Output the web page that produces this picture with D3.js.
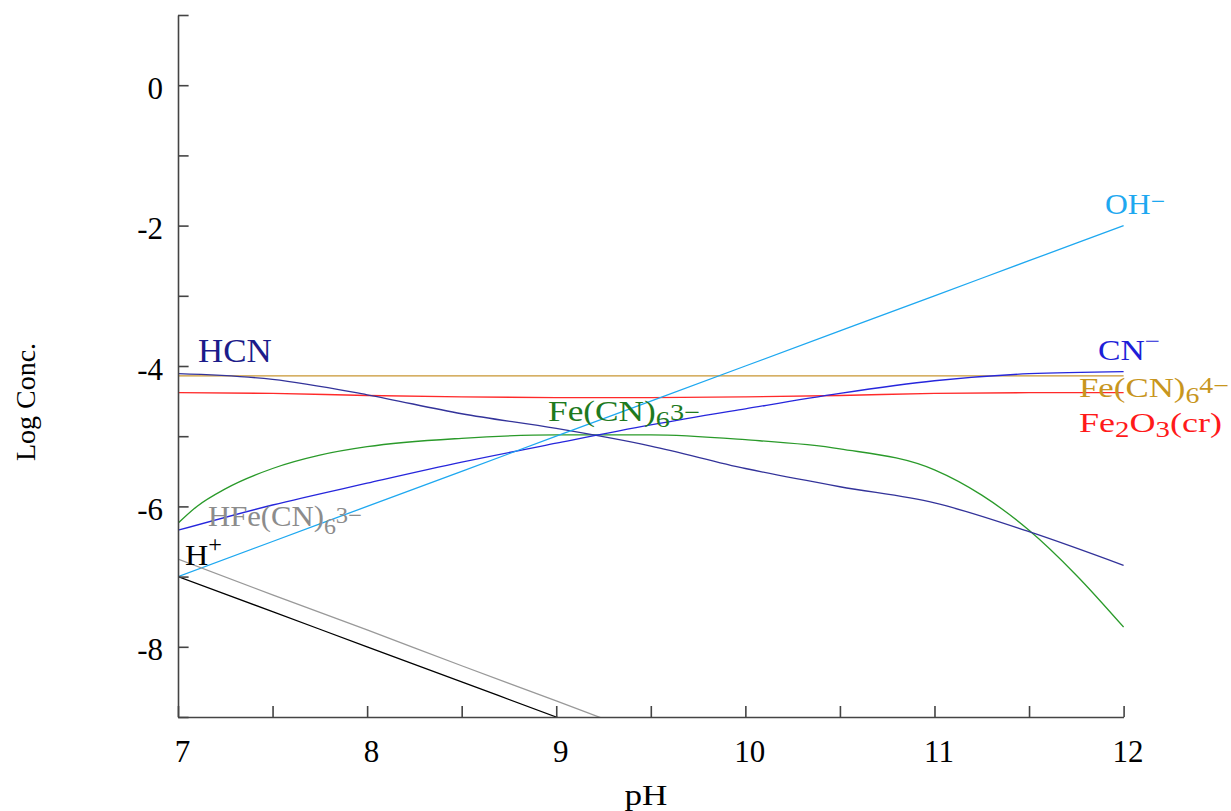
<!DOCTYPE html>
<html><head><meta charset="utf-8">
<script src="https://cdn.jsdelivr.net/npm/d3@7"></script>
<style>
body{margin:0;background:#fff}
svg{display:block}
text{font-family:"Liberation Serif","Times New Roman",serif}
</style>
</head><body>
<svg id="c" width="1231" height="811"></svg>
<script>
// ---- data ----
const pHGrid   = [7, 7.5, 8, 8.5, 9, 9.5, 10, 10.5, 11, 11.5, 12];
const ohMinus  = [-7, -6.5, -6, -5.5, -5, -4.5, -4, -3.5, -3, -2.5, -2];
const hPlus    = [-7, -7.5, -8, -8.5, -9, -9.5, -10, -10.5, -11, -11.5, -12];
const hcn      = [-4.11, -4.19, -4.41, -4.68, -4.89, -5.14, -5.46, -5.72, -5.95, -6.36, -6.84];
const cnMinus  = [-6.34, -5.98, -5.67, -5.37, -5.10, -4.84, -4.61, -4.39, -4.21, -4.11, -4.08];
const feCN6_4  = [-4.14, -4.14, -4.14, -4.14, -4.14, -4.14, -4.14, -4.14, -4.14, -4.14, -4.14];
const fe2o3    = [-4.38, -4.39, -4.42, -4.44, -4.45, -4.45, -4.44, -4.42, -4.39, -4.38, -4.38];
const hFeCN6   = [-6.75, -7.26, -7.76, -8.27, -8.77, -9.28, -9.78, -10.29, -10.79, -11.3, -11.8];
const pHGreen  = [7, 7.1, 7.25, 7.5, 7.75, 8, 8.5, 9, 9.5, 10, 10.5, 11, 11.25, 11.5, 11.75, 12];
const feCN6_3  = [-6.24, -6.0, -5.75, -5.46, -5.27, -5.15, -5.03, -4.98, -4.98, -5.05, -5.18, -5.48, -5.84, -6.34, -6.98, -7.72];
const xTickValues = [7, 7.5, 8, 8.5, 9, 9.5, 10, 10.5, 11, 11.5, 12];
const xTickLabels = [7, 8, 9, 10, 11, 12];
const yTickValues = [1, 0, -1, -2, -3, -4, -5, -6, -7, -8, -9];
const yTickLabels = [0, -2, -4, -6, -8];

const svg = d3.select("#c");
const x = d3.scaleLinear().domain([7, 12]).range([178, 1123.6]);
const y = d3.scaleLinear().domain([-9, 1]).range([717, 15]);

svg.append("clipPath").attr("id","clip").append("rect")
  .attr("x", 178).attr("y", 15).attr("width", 946).attr("height", 702);

const series = [
  {xs: pHGrid, ys: feCN6_4, color: "#c89632"},
  {xs: pHGrid, ys: fe2o3,   color: "#ff2a2a"},
  {xs: pHGreen, ys: feCN6_3, color: "#2a9a2a"},
  {xs: pHGrid, ys: hcn,     color: "#33339a"},
  {xs: pHGrid, ys: cnMinus, color: "#2626dc"},
  {xs: pHGrid, ys: ohMinus, color: "#1ea8f0"},
  {xs: pHGrid, ys: hFeCN6,  color: "#999999"},
  {xs: pHGrid, ys: hPlus,   color: "#000000"}
];

const line = d3.line().x(d => x(d[0])).y(d => y(d[1])).curve(d3.curveMonotoneX);
const g = svg.append("g").attr("clip-path", "url(#clip)");
series.forEach(s => {
  g.append("path").datum(s.xs.map((v,i) => [v, s.ys[i]]))
    .attr("d", line).attr("fill","none").attr("stroke", s.color).attr("stroke-width", 1.3);
});

// axes
const axisColor = "#444";
const yAxis = d3.axisLeft(y).tickValues(yTickValues).tickSizeInner(-10.6).tickSizeOuter(0).tickPadding(15)
  .tickFormat(d => yTickLabels.includes(d) ? String(d) : "");
const ya = svg.append("g").attr("transform","translate(178,0)").call(yAxis);
const xAxis = d3.axisBottom(x).tickValues(xTickValues).tickSizeInner(-11).tickSizeOuter(0).tickPadding(23)
  .tickFormat(d => xTickLabels.includes(d) ? String(d) : "");
const xa = svg.append("g").attr("transform","translate(0,717)").call(xAxis);
[ya, xa].forEach(a => {
  a.select(".domain").attr("stroke", axisColor).attr("stroke-width", 1.6);
  a.selectAll(".tick line").attr("stroke", axisColor).attr("stroke-width", 1.6);
  a.selectAll(".tick text").attr("fill","#000").style("font-size","31px")
    .style("font-family",'"Liberation Serif","Times New Roman",serif');
});
ya.selectAll(".tick text").attr("dy", "0.42em");
xa.selectAll(".tick text").attr("dx", "4");

// axis titles
svg.append("text").attr("transform","translate(35,402) rotate(-90)").attr("text-anchor","middle")
  .style("font-size","28px").text("Log Conc.");

// species / title labels with measured horizontal fit
function label(xp, yp, color, size, target, parts, anchorMid) {
  const grp = svg.append("g");
  const t = grp.append("text").attr("fill", color).style("font-size", size + "px");
  let shift = 0;
  parts.forEach(p => {
    const off = (p.dy || 0) * size;
    const ts = t.append("tspan").attr("dy", off - shift).text(p.t);
    if (p.s) ts.style("font-size", (size * p.s) + "px");
    shift = off;
  });
  const w = t.node().getBBox().width;
  const sx = target / w;
  if (anchorMid) t.attr("x", -w / 2);
  grp.attr("transform", `translate(${xp},${yp}) scale(${sx},1)`);
}
label(646, 805, "#000", 29, 43, [{t:"pH"}], true);
label(198, 362, "#1c1c8a", 33, 74, [{t:"HCN"}]);
label(1105, 214, "#1ea8f0", 29, 60, [{t:"OH"},{t:"−", s:0.8, dy:-0.17}]);
label(1098, 360, "#1e1ed8", 30, 62, [{t:"CN"},{t:"−", s:0.8, dy:-0.36}]);
label(1079, 397, "#c8961e", 28, 150, [{t:"Fe(CN)"},{t:"6", s:0.8, dy:0.2},{t:"4−", s:0.8, dy:-0.14}]);
label(1079, 432, "#ff1a1a", 28, 143, [{t:"Fe"},{t:"2", s:0.8, dy:0.18},{t:"O"},{t:"3", s:0.8, dy:0.18},{t:"(cr)"}]);
label(548, 421, "#1e7a1e", 29, 152, [{t:"Fe(CN)"},{t:"6", s:0.8, dy:0.2},{t:"3−", s:0.8, dy:-0.05}]);
label(208, 526, "#8c8c8c", 29, 154, [{t:"HFe(CN)"},{t:"6", s:0.78, dy:0.26},{t:"3−", s:0.8, dy:-0.12}]);
label(185, 565, "#000", 30, 37, [{t:"H"},{t:"+", s:0.75, dy:-0.42}]);
</script>
</body></html>
